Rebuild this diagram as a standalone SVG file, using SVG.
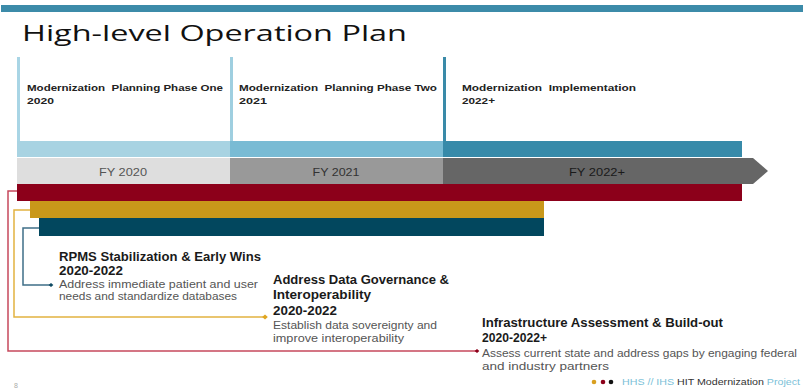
<svg xmlns="http://www.w3.org/2000/svg" width="803" height="390" viewBox="0 0 803 390">
<defs>
<style>
text{font-family:"Liberation Sans",Arial,sans-serif;white-space:pre}
.title{font-family:"Open Sans","Liberation Sans",sans-serif;font-size:22px;fill:#111}
.col{font-size:9.5px;font-weight:bold;fill:#222}
.fy{font-size:11.5px;text-anchor:middle}
.hd{font-size:12px;font-weight:bold;fill:#1a1a1a}
.ds{font-size:10px;fill:#555}
.conn{fill:none;stroke-width:1.5}
</style>
<marker id="dRed" viewBox="-5 -5 10 10" markerWidth="6" markerHeight="6" refX="0" refY="0" orient="auto" markerUnits="userSpaceOnUse"><path d="M-4 0L0-3.5L4 0L0 3.5Z" fill="#8c001a"/></marker>
<marker id="dGold" viewBox="-5 -5 10 10" markerWidth="7" markerHeight="7" refX="0" refY="0" orient="auto" markerUnits="userSpaceOnUse"><path d="M-4 0L0-3.5L4 0L0 3.5Z" fill="#e0a620"/></marker>
<marker id="dTeal" viewBox="-5 -5 10 10" markerWidth="6" markerHeight="6" refX="0" refY="0" orient="auto" markerUnits="userSpaceOnUse"><path d="M-4 0L0-3.5L4 0L0 3.5Z" fill="#0f4a63"/></marker>
</defs>
<rect width="803" height="390" fill="#fff"/>
<rect x="1" y="5" width="802" height="7" fill="#3c8ba9"/>
<g id="title"><text class="title" x="22" y="41" textLength="385" lengthAdjust="spacingAndGlyphs">High-level Operation Plan</text></g>

<g id="phase1">
<rect x="17" y="57" width="3" height="84" fill="#a9d5e5"/>
<text class="col" x="27" y="91" textLength="196" lengthAdjust="spacingAndGlyphs">Modernization  Planning Phase One</text>
<text class="col" x="27" y="104" textLength="27" lengthAdjust="spacingAndGlyphs">2020</text>
</g>
<g id="phase2">
<rect x="230" y="57" width="3" height="84" fill="#9fcfe0"/>
<text class="col" x="239" y="91" textLength="198" lengthAdjust="spacingAndGlyphs">Modernization  Planning Phase Two</text>
<text class="col" x="239" y="104" textLength="28" lengthAdjust="spacingAndGlyphs">2021</text>
</g>
<g id="phase3">
<rect x="443" y="57" width="3" height="84" fill="#3a8aa8"/>
<text class="col" x="462" y="91" textLength="174" lengthAdjust="spacingAndGlyphs">Modernization  Implementation</text>
<text class="col" x="462" y="104" textLength="33" lengthAdjust="spacingAndGlyphs">2022+</text>
</g>

<g id="phase-bar">
<rect x="17" y="141" width="213" height="16" fill="#a8d3e2"/>
<rect x="230" y="141" width="213" height="16" fill="#79bbd4"/>
<rect x="443" y="141" width="299" height="16" fill="#378aa9"/>
</g>
<g id="fy-bar">
<rect x="17" y="158" width="213" height="26" fill="#dedede"/>
<rect x="230" y="158" width="213" height="26" fill="#999999"/>
<path d="M443 158H753L768 171L753 184H443Z" fill="#666666"/>
<text class="fy" x="123" y="176" fill="#555" textLength="48" lengthAdjust="spacingAndGlyphs">FY 2020</text>
<text class="fy" x="336" y="176" fill="#333" textLength="47" lengthAdjust="spacingAndGlyphs">FY 2021</text>
<text class="fy" x="597" y="176" fill="#1a1a1a" textLength="56" lengthAdjust="spacingAndGlyphs">FY 2022+</text>
</g>
<g id="bars">
<rect x="17" y="184" width="725" height="17" fill="#8c001a"/>
<rect x="30" y="201" width="514" height="17" fill="#c9981a"/>
<rect x="39" y="218" width="505" height="18" fill="#02475e"/>
</g>

<g id="connectors">
<path class="conn" d="M17 191H8V351H477" stroke="#c6485c" marker-end="url(#dRed)"/>
<path class="conn" d="M30 210H14V317H265" stroke="#e2b340" marker-end="url(#dGold)"/>
<path class="conn" d="M39 228H23V285H51" stroke="#3f6f88" marker-end="url(#dTeal)"/>
</g>

<g id="task-rpms">
<text class="hd" x="59" y="261" textLength="202" lengthAdjust="spacingAndGlyphs">RPMS Stabilization &amp; Early Wins</text>
<text class="hd" x="59" y="275" textLength="64" lengthAdjust="spacingAndGlyphs">2020-2022</text>
<text class="ds" x="59" y="288" textLength="199" lengthAdjust="spacingAndGlyphs">Address immediate patient and user</text>
<text class="ds" x="59" y="300" textLength="178" lengthAdjust="spacingAndGlyphs">needs and standardize databases</text>
</g>
<g id="task-governance">
<text class="hd" x="273" y="284" textLength="176" lengthAdjust="spacingAndGlyphs">Address Data Governance &amp;</text>
<text class="hd" x="273" y="299" textLength="98" lengthAdjust="spacingAndGlyphs">Interoperability</text>
<text class="hd" x="273" y="315" textLength="64" lengthAdjust="spacingAndGlyphs">2020-2022</text>
<text class="ds" x="273" y="329" textLength="164" lengthAdjust="spacingAndGlyphs">Establish data sovereignty and</text>
<text class="ds" x="273" y="342" textLength="131" lengthAdjust="spacingAndGlyphs">improve interoperability</text>
</g>
<g id="task-infrastructure">
<text class="hd" x="482" y="327" textLength="241" lengthAdjust="spacingAndGlyphs">Infrastructure Assessment &amp; Build-out</text>
<text class="hd" x="482" y="342" textLength="65" lengthAdjust="spacingAndGlyphs">2020-2022+</text>
<text class="ds" x="482" y="357" textLength="315" lengthAdjust="spacingAndGlyphs">Assess current state and address gaps by engaging federal</text>
<text class="ds" x="482" y="370" textLength="127" lengthAdjust="spacingAndGlyphs">and industry partners</text>
</g>

<g id="footer">
<circle cx="594" cy="382" r="2.3" fill="#d9a020"/>
<circle cx="603" cy="382" r="2.3" fill="#8c001a"/>
<circle cx="611" cy="382" r="2.3" fill="#111"/>
<text x="622" y="385" font-size="9.5" textLength="178" lengthAdjust="spacingAndGlyphs"><tspan fill="#7bbfd8">HHS // IHS </tspan><tspan fill="#333">HIT Modernization </tspan><tspan fill="#7bbfd8">Project</tspan></text>
<text x="14" y="388" font-size="7" fill="#aaa">8</text>
</g>
</svg>
